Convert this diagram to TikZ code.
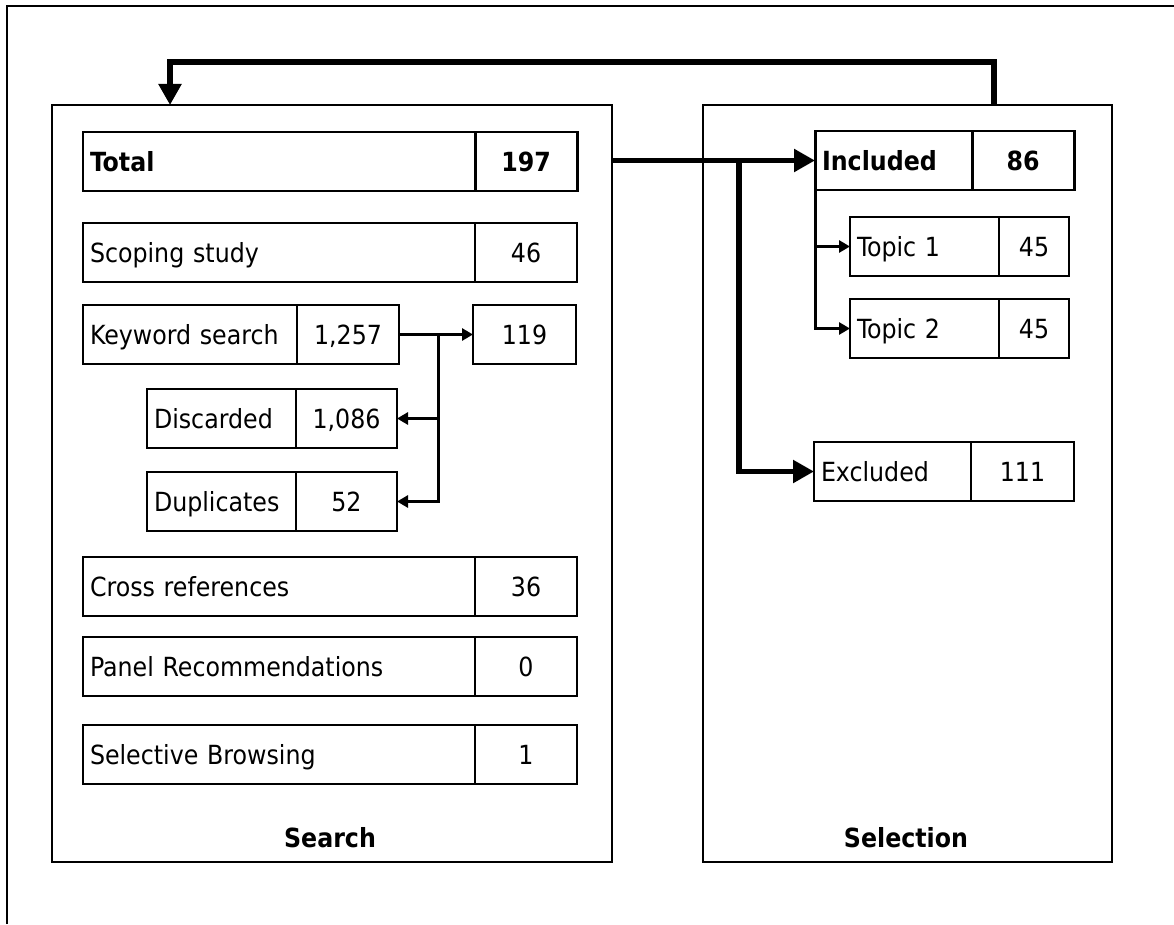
\documentclass[tikz,border=0pt]{standalone}
\usepackage{fontspec}
\setmainfont{DejaVu Sans Condensed}
\usetikzlibrary{positioning, arrows.meta}
\newcommand{\cellfont}{\fontsize{15}{17}\selectfont}

\begin{document}
\begin{tikzpicture}[
        font=\cellfont,
        cell/.style={draw, line width=0.9pt, minimum height=1.18cm, inner sep=0pt, outer sep=0pt,
            text height=14.5pt, text depth=3pt},
        lbl/.style={cell, text width=#1, inner xsep=0.14cm, align=left, anchor=north west},
        num/.style={cell, minimum width=#1},
        strong/.style={line width=1.7pt, font=\cellfont\bfseries},
        stage/.style={draw, line width=1.6pt, inner sep=0pt, outer sep=0pt, anchor=north west},
        bigarrow/.style={line width=3.4pt, -{Triangle[length=0.42cm, width=0.44cm]}},
        arr/.style={line width=1.7pt, -{Triangle[length=0.22cm, width=0.24cm]}}
    ]
    \useasboundingbox (0,0) rectangle (23.48,-18.48);
    % Frame
    \draw[line width=0.8pt] (0.14,-18.48) -- (0.14,-0.12) -- (23.48,-0.12);
    % Stages
    \node[stage, minimum width=11.20cm, minimum height=15.14cm] (search) at (1.04,-2.10) {};
    \node[stage, minimum width=8.18cm, minimum height=15.14cm] (selection) at (14.06,-2.10) {};
    \node[font=\cellfont\bfseries] (searchlbl) at (6.60,-16.76) {Search};
    \node[font=\cellfont\bfseries] (selectionlbl) at (18.12,-16.76) {Selection};
    % Search rows
    \node[lbl=7.56cm, strong] (tot) at (1.66,-2.64) {Total};
    \node[num=2.04cm, strong, right=0pt of tot] (totN) {197};
    \node[lbl=7.56cm] (scope) at (1.66,-4.46) {Scoping study};
    \node[num=2.04cm, right=0pt of scope] (scopeN) {46};
    \node[lbl=4.00cm] (kw) at (1.66,-6.10) {Keyword search};
    \node[num=2.04cm, right=0pt of kw] (kwN) {1,257};
    \node[num=2.06cm, anchor=north west] (kwOut) at (9.46,-6.10) {119};
    \node[lbl=2.70cm] (dis) at (2.94,-7.78) {Discarded};
    \node[num=2.02cm, right=0pt of dis] (disN) {1,086};
    \node[lbl=2.70cm] (dup) at (2.94,-9.44) {Duplicates};
    \node[num=2.02cm, right=0pt of dup] (dupN) {52};
    \node[lbl=7.56cm] (cross) at (1.66,-11.14) {Cross references};
    \node[num=2.04cm, right=0pt of cross] (crossN) {36};
    \node[lbl=7.56cm] (panel) at (1.66,-12.74) {Panel Recommendations};
    \node[num=2.04cm, right=0pt of panel] (panelN) {0};
    \node[lbl=7.56cm] (browse) at (1.66,-14.50) {Selective Browsing};
    \node[num=2.04cm, right=0pt of browse] (browseN) {1};
    % Selection rows
    \node[lbl=2.86cm, strong] (inc) at (16.30,-2.62) {Included};
    \node[num=2.04cm, strong, right=0pt of inc] (incN) {86};
    \node[lbl=2.70cm] (t1) at (17.00,-4.34) {Topic 1};
    \node[num=1.40cm, right=0pt of t1] (t1N) {45};
    \node[lbl=2.70cm] (t2) at (17.00,-5.98) {Topic 2};
    \node[num=1.40cm, right=0pt of t2] (t2N) {45};
    \node[lbl=2.86cm] (exc) at (16.28,-8.84) {Excluded};
    \node[num=2.06cm, right=0pt of exc] (excN) {111};
    % Loop back from selection to search
    \coordinate (loopR) at (19.88,-1.24);
    \coordinate (loopL) at (3.40,-1.24);
    \draw[bigarrow] (loopR |- selection.north) -- (loopR) -- (loopL) -- (loopL |- search.north);
    % Search -> selection
    \coordinate (split) at (14.78,0);
    \draw[bigarrow] (search.east |- inc.west) -- (inc.west);
    \draw[bigarrow] (split |- inc.west) |- (exc.west);
    \draw[arr] (inc.south west) |- (t1.west);
    \draw[arr] (inc.south west) |- (t2.west);
    % Keyword search split
    \coordinate (kwsplit) at (8.76,0);
    \draw[arr] (kwN.east) -- (kwOut.west);
    \draw[arr] (kwsplit |- kwN.east) |- (disN.east);
    \draw[arr] (kwsplit |- kwN.east) |- (dupN.east);
\end{tikzpicture}
\end{document}
